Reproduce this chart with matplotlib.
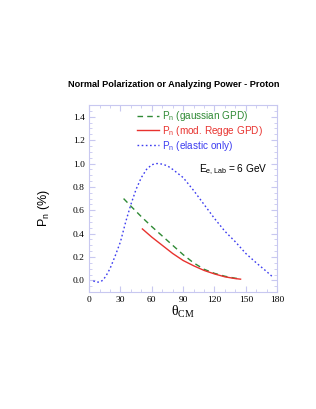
import numpy as np
import matplotlib
matplotlib.use("Agg")
import matplotlib.pyplot as plt
from matplotlib.ticker import MultipleLocator

plt.rcParams['font.family'] = ['Liberation Sans', 'DejaVu Sans']
plt.rcParams['mathtext.default'] = 'regular'

# elastic only (blue dotted)
theta_el = [4, 7, 10, 13, 16, 20, 25, 30, 35, 40, 45, 50, 55, 60, 65, 70, 75, 80,
            90, 100, 110, 120, 130, 140, 150, 160, 170, 175]
pn_el = [-0.005, -0.015, -0.015, 0.0, 0.035, 0.10, 0.21, 0.33, 0.50, 0.65, 0.78, 0.88,
         0.95, 0.99, 1.0, 0.995, 0.98, 0.95, 0.88, 0.77, 0.65, 0.53, 0.42, 0.33,
         0.23, 0.15, 0.075, 0.035]

# gaussian GPD (green dashed)
theta_g = [33, 40, 50, 60, 70, 80, 90, 100, 110, 120, 130, 140, 145]
pn_g = [0.70, 0.635, 0.545, 0.46, 0.38, 0.30, 0.22, 0.15, 0.095, 0.06, 0.035, 0.018, 0.012]

# mod. Regge GPD (red solid)
theta_r = [51, 60, 70, 80, 90, 100, 110, 120, 130, 140, 145]
pn_r = [0.44, 0.37, 0.30, 0.23, 0.17, 0.125, 0.085, 0.055, 0.03, 0.015, 0.01]

green = '#2f8a35'
red = '#e8322e'
blue = '#3c3cf0'
frame = '#c8c8f0'

fig = plt.figure(figsize=(3.16, 4.09), dpi=100)
ax = fig.add_axes([0.282, 0.286, 0.595, 0.457])

ax.plot(theta_g, pn_g, color=green, lw=1.0, ls=(0, (4, 3)), label=r'P$_n$ (gaussian GPD)')
ax.plot(theta_r, pn_r, color=red, lw=1.0, label=r'P$_n$ (mod. Regge GPD)')
ax.plot(theta_el, pn_el, color=blue, lw=1.0, ls=(0, (1.2, 1.8)), label=r'P$_n$ (elastic only)')

ax.set_xlim(0, 180)
ax.set_ylim(-0.1, 1.5)
ax.xaxis.set_major_locator(MultipleLocator(30))
ax.xaxis.set_minor_locator(MultipleLocator(10))
ax.yaxis.set_minor_locator(MultipleLocator(0.05))
ax.set_yticks(np.arange(0, 1.41, 0.2))
ax.set_yticklabels(['%.1f' % v for v in np.arange(0, 1.41, 0.2)])

for s in ax.spines.values():
    s.set_color(frame)
    s.set_linewidth(0.8)
ax.tick_params(which='both', direction='in', top=True, right=True, color=frame,
               labelsize=6.8, pad=3)
ax.tick_params(which='major', length=4)
ax.tick_params(which='minor', length=2)
for lab in ax.get_xticklabels() + ax.get_yticklabels():
    lab.set_fontfamily('Liberation Serif')

leg = ax.legend(loc='upper right', frameon=False, fontsize=7.2, handlelength=2.2,
                handletextpad=0.3, labelspacing=0.08, borderaxespad=0,
                bbox_to_anchor=(0.947, 1.0))
for txt, c in zip(leg.get_texts(), [green, red, blue]):
    txt.set_color(c)

ax.text(0.585, 0.652, r'E$_{e,Lab}$ = 6 GeV', transform=ax.transAxes, fontsize=7.3,
        ha='left', va='center')

ax.set_title('Normal Polarization or Analyzing Power - Proton', fontsize=6.6,
             fontweight='bold', pad=13, x=0.45)
ax.set_xlabel(r'θ$_{CM}$', fontsize=10, family='Liberation Serif', labelpad=0)
ax.set_ylabel('P$_n$ (%)', fontsize=9)
ax.yaxis.set_label_coords(-0.2, 0.45)

fig.savefig('out.png', dpi=100)
